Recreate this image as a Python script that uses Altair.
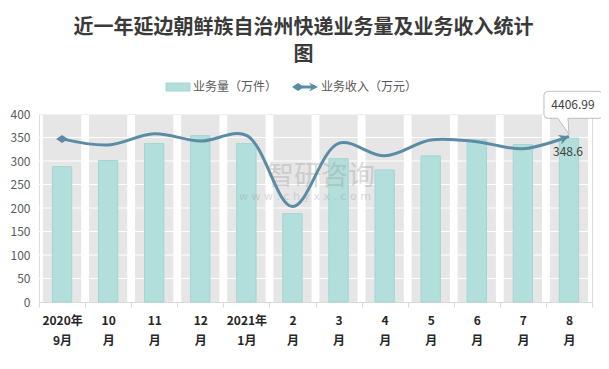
import altair as alt
import pandas as pd

categories = ["2020年9月", "10月", "11月", "12月", "2021年1月", "2月",
              "3月", "4月", "5月", "6月", "7月", "8月"]
tick_lines = [["2020年", "9月"], ["10", "月"], ["11", "月"], ["12", "月"], ["2021年", "1月"],
              ["2", "月"], ["3", "月"], ["4", "月"], ["5", "月"], ["6", "月"], ["7", "月"], ["8", "月"]]
volume = [288, 301, 337, 354, 337, 188, 305, 281, 311, 345, 335, 348.6]
income = [4338, 4175, 4475, 4281, 4433, 2538, 4219, 3888, 4309, 4263, 4075, 4406.99]
y_ticks = [0, 50, 100, 150, 200, 250, 300, 350, 400]
title_lines = ["近一年延边朝鲜族自治州快递业务量及业务收入统计", "图"]
legend_bar = "业务量（万件）"
legend_line = "业务收入（万元）"

FONT = "Noto Sans CJK SC"
LINE_C = "#5A8CA5"
BAR_C = "#B2DFDB"

df = pd.DataFrame({"month": categories, "volume": volume, "income": income})
df["top"] = 400
last = df.tail(1)
first = df.head(1)
one = pd.DataFrame({"a": [0]})
grid_df = pd.DataFrame({"g": y_ticks[1:]})

label_expr = "".join(
    f"datum.value == '{c}' ? ['{a}', '{b}'] : " for c, (a, b) in zip(categories, tick_lines)
) + "datum.label"

xenc = alt.X("month:N", sort=categories, title=None,
             scale=alt.Scale(paddingInner=0, paddingOuter=0),
             axis=alt.Axis(labelExpr=label_expr, labelAngle=0, labelFont=FONT,
                           labelFontWeight="bold", labelFontSize=12, labelColor="#262626",
                           labelLineHeight=20, labelPadding=8,
                           domainColor="#D9D9D9", tickColor="#D9D9D9", tickSize=5,
                           tickBand="extent"))

yleft = alt.Scale(domain=[0, 400])
yright = alt.Scale(domain=[0, 5000])

bg = alt.Chart(df).mark_bar(color="#E7E6E6", width=alt.RelativeBandSize(0.83)).encode(
    x=xenc,
    y=alt.Y("top:Q", scale=yleft, title=None,
            axis=alt.Axis(values=y_ticks, domain=False, ticks=False, grid=False,
                          labelColor="#595959", labelFontSize=12, labelFont=FONT,
                          labelPadding=9)))

grid = alt.Chart(grid_df).mark_rule(color="white", strokeWidth=1).encode(
    y=alt.Y("g:Q", scale=yleft, axis=None))

bars = alt.Chart(df).mark_bar(color=BAR_C, stroke="#A2D6D1", strokeWidth=1,
                              width=alt.RelativeBandSize(0.42)).encode(
    x=xenc, y=alt.Y("volume:Q", scale=yleft, axis=None))

wm1 = alt.Chart(one).mark_text(text="智研咨询", font=FONT, fontSize=27, color="#9A9A9A",
                               opacity=0.35).encode(x=alt.value(282), y=alt.value(63))
wm2 = alt.Chart(one).mark_text(text="w w w . c h y x x . c o m", font="DejaVu Sans",
                               fontSize=11, color="#9A9A9A", opacity=0.35).encode(
    x=alt.value(266), y=alt.value(83))

line = alt.Chart(df).mark_line(interpolate="catmull-rom", color=LINE_C, strokeWidth=3).encode(
    x=xenc, y=alt.Y("income:Q", scale=yright, axis=None))

start_mk = alt.Chart(first).mark_point(
    shape="M-6,0 L0,-4 L6,0 L0,4 Z", size=4, filled=True, color=LINE_C, opacity=1).encode(
    x=xenc, y=alt.Y("income:Q", scale=yright, axis=None))

end_mk = alt.Chart(last).mark_point(
    shape="M0,0 L-10,-5 L-7,0 L-10,5 Z", size=4, filled=True, color=LINE_C, opacity=1,
    angle=340).encode(
    x=xenc, y=alt.Y("income:Q", scale=yright, axis=None))

callout = alt.Chart(last).mark_point(
    shape=("M-25,-41 Q-25,-45 -21,-45 L30,-45 Q34,-45 34,-41 L34,-22 Q34,-18 30,-18 "
           "L-1,-18 L0,-2 L-11,-18 L-21,-18 Q-25,-18 -25,-22 Z"),
    size=4, filled=True, fill="white", stroke="#BFBFBF", strokeWidth=1, opacity=1).encode(
    x=xenc, y=alt.Y("income:Q", scale=yright, axis=None))

callout_txt = alt.Chart(last).mark_text(dx=4, dy=-31, fontSize=12, font=FONT,
                                        color="#404040").encode(
    x=xenc, y=alt.Y("income:Q", scale=yright, axis=None),
    text=alt.Text("income:Q", format=".2f"))

bar_lbl = alt.Chart(last).mark_text(dx=-1, dy=14, fontSize=12, font=FONT,
                                    color="#404040").encode(
    x=xenc, y=alt.Y("volume:Q", scale=yleft, axis=None),
    text=alt.Text("volume:Q", format=".1f"))

# legend
lg_rect = alt.Chart(one).mark_rect(color=BAR_C, stroke="#A2D6D1").encode(
    x=alt.value(127), x2=alt.value(151), y=alt.value(-31), y2=alt.value(-23))
lg_t1 = alt.Chart(one).mark_text(text=legend_bar, align="left", baseline="middle",
                                 font=FONT, fontSize=12, color="#595959").encode(
    x=alt.value(154), y=alt.value(-27))
lg_rule = alt.Chart(one).mark_rule(color=LINE_C, strokeWidth=3).encode(
    x=alt.value(256), x2=alt.value(276), y=alt.value(-27))
lg_d = alt.Chart(one).mark_point(shape="M-6,0 L0,-4 L6,0 L0,4 Z", size=4, filled=True,
                                 color=LINE_C, opacity=1).encode(
    x=alt.value(259), y=alt.value(-27))
lg_a = alt.Chart(one).mark_point(shape="M0,0 L-9,-4.5 L-6,0 L-9,4.5 Z", size=4, filled=True,
                                 color=LINE_C, opacity=1).encode(
    x=alt.value(279), y=alt.value(-27))
lg_t2 = alt.Chart(one).mark_text(text=legend_line, align="left", baseline="middle",
                                 font=FONT, fontSize=12, color="#595959").encode(
    x=alt.value(282), y=alt.value(-27))

chart = alt.layer(
    bg, grid, bars, wm1, wm2, line, start_mk, end_mk, callout, callout_txt, bar_lbl,
    lg_rect, lg_t1, lg_rule, lg_d, lg_a, lg_t2
).resolve_scale(y="independent").properties(
    width=553, height=188,
    padding={"left": 31, "top": 106, "right": 9, "bottom": 54},
    autosize=alt.AutoSizeParams(type="none"),
    title=alt.TitleParams(text=title_lines, font=FONT, fontSize=20, fontWeight="bold",
                          color="#3A3A3A", lineHeight=27, anchor="middle", dx=-12,
                          offset=16)
).configure_view(stroke=None).configure(background="white")

chart.save("out.html", embed_options={"renderer": "svg", "actions": False})
